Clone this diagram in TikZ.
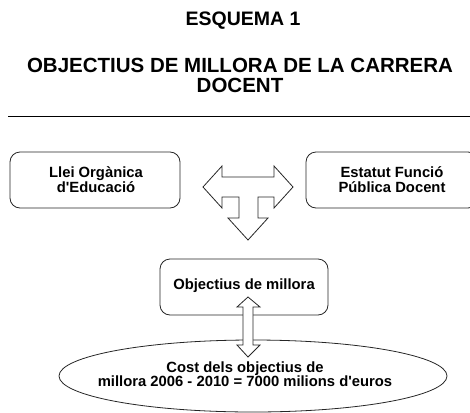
\documentclass[tikz,border=0pt]{standalone}
\usepackage{fontspec}
\setmainfont{Liberation Sans}
\usetikzlibrary{shapes.geometric}
\tikzset{
  titletext/.style={font=\bfseries\fontsize{20.5}{20}\selectfont, align=center},
  boxtext/.style={font=\bfseries\fontsize{14.8}{15}\selectfont, align=center},
  roundbox/.style={draw=black!85, line width=0.8pt, rounded corners=10pt},
  blockarrow/.style={draw=black!85, line width=0.8pt, fill=white, line join=miter}
}
\begin{document}
\begin{tikzpicture}[x=1pt, y=-1pt]
\useasboundingbox (0,0) rectangle (470,412);
\clip (0,0) rectangle (470,412);
% Title
\node[titletext, font=\bfseries\fontsize{19.5}{20}\selectfont] (esquema) at (243,21) {ESQUEMA 1};
\node[titletext] (objectius) at (240,75) {OBJECTIUS DE MILLORA DE LA CARRERA\\DOCENT};
% Rule
\draw[line width=0.9pt] (8,116) -- (470,116);
% Llei
\draw[roundbox] (10,152) rectangle (180,208);
\node[boxtext] (llei) at (96,180) {Llei Orgànica\\d\textquotesingle Educació};
% Estatut
\draw[roundbox] (306,152) rectangle (478,208);
\node[boxtext] (estatut) at (392,180) {Estatut Funció\\Pública Docent};
% T arrow
\draw[blockarrow] (203,187) -- (222,166) -- (222,177) -- (274,177) -- (274,166)
  -- (293,187) -- (274,208) -- (274,197) -- (258,197) -- (258,218) -- (268,218)
  -- (248,240) -- (228,218) -- (239,218) -- (239,197) -- (222,197) -- (222,208) -- cycle;
% Objectius de millora
\draw[roundbox] (160,259) rectangle (328,315);
\node[boxtext] (millora) at (244,286) {Objectius de millora};
% Cost
\draw[line width=0.8pt, draw=black!85] (253,376) ellipse (194 and 36);
\node[boxtext, font=\bfseries\fontsize{14.8}{14}\selectfont] (cost) at (245,374) {Cost dels objectius de\\millora 2006 - 2010 = 7000 milions d\textquotesingle euros};
% Double arrow
\draw[blockarrow] (248,297) -- (260,307) -- (253,307) -- (253,345) -- (260,345)
  -- (248,357) -- (237,345) -- (243,345) -- (243,307) -- (237,307) -- cycle;
\end{tikzpicture}
\end{document}
